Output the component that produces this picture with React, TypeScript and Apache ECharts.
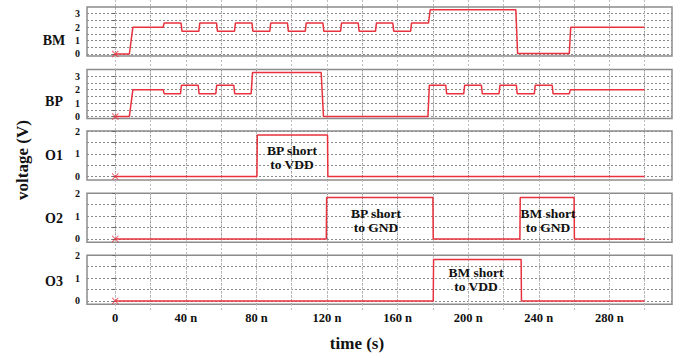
import React, { useEffect, useRef } from 'react';
import * as echarts from 'echarts';

// ---- data (time in ns, voltage in V) ----
const panelNames = ['BM', 'BP', 'O1', 'O2', 'O3'];

const BM: [number, number][] = [
  [0, 0], [8, 0], [10, 2], [27.2, 2], [27.7, 2.3], [37.3, 2.3], [37.8, 1.7], [47.4, 1.7], [47.9, 2.3],
  [57.4, 2.3], [57.9, 1.7], [67.6, 1.7], [68.1, 2.3], [77.5, 2.3], [78, 1.7], [87.6, 1.7], [88.1, 2.3],
  [97.6, 2.3], [98.1, 1.7], [107.7, 1.7], [108.2, 2.3], [117.7, 2.3], [118.2, 1.7], [127.7, 1.7],
  [128.2, 2.3], [137.7, 2.3], [138.2, 1.7], [147.5, 1.7], [148, 2.3], [157.3, 2.3], [157.8, 1.7],
  [167.4, 1.7], [167.9, 2.3], [177.5, 2.3], [178.5, 3.3], [227, 3.3], [228, 0.03], [257.3, 0.03],
  [258.1, 2], [300, 2],
];

const BP: [number, number][] = [
  [0, 0], [8, 0], [10, 2], [27.2, 2], [27.7, 1.7], [37, 1.7], [37.5, 2.33], [47, 2.33], [47.5, 1.7],
  [57, 1.7], [57.5, 2.33], [67.2, 2.33], [67.7, 1.7], [77, 1.7], [77.8, 3.28], [116.7, 3.28], [118, 0],
  [177.2, 0], [178, 2.33], [187.3, 2.33], [187.8, 1.7], [197.5, 1.7], [198, 2.33], [207.5, 2.33],
  [208, 1.7], [217.5, 1.7], [218, 2.33], [227.3, 2.33], [227.8, 1.7], [237.5, 1.7], [238, 2.33],
  [247.6, 2.33], [248.1, 1.7], [257.3, 1.7], [257.9, 2], [300, 2],
];

const O1: [number, number][] = [
  [0, 0], [80.3, 0], [80.5, 1.82], [120.3, 1.82], [120.5, 0], [300, 0],
];

const O2: [number, number][] = [
  [0, 0], [119.6, 0], [119.8, 1.82], [180, 1.82], [180.2, 0], [229.3, 0], [229.5, 1.82],
  [260, 1.82], [260.2, 0], [300, 0],
];

const O3: [number, number][] = [
  [0, 0], [180.2, 0], [180.4, 1.82], [230, 1.82], [230.2, 0], [300, 0],
];

const seriesData = [BM, BP, O1, O2, O3];

const xTickValues = [0, 20, 40, 60, 80, 100, 120, 140, 160, 180, 200, 220, 240, 260, 280, 300];
const xLabelValues = [0, 40, 80, 120, 160, 200, 240, 280];
const yTicksB = [0, 0.5, 1, 1.5, 2, 2.5, 3];
const yLabelsB = [0, 1, 2, 3];
const yTicksO = [0, 0.5, 1, 1.5, 2];
const yLabelsO = [0, 1, 2];

const annotations = [
  { text: 'BP short\nto VDD', x: 292, y: 157 },
  { text: 'BP short\nto GND', x: 376, y: 220 },
  { text: 'BM short\nto GND', x: 548, y: 220 },
  { text: 'BM short\nto VDD', x: 476, y: 279.5 },
];

// ---- layout ----
const GRID_LEFT = 87;
const GRID_WIDTH = 585;
const GRID_TOPS = [7, 69.5, 131, 193.3, 255.3];
const GRID_H = 49;
const X_MIN = -16;
const X_MAX = 315.5;
const FONT = 'Liberation Serif';
const RED = '#e8323e';
const labelY = [40, 101, 155, 218, 281];

const xSymbol = 'path://M0,1 L1,0 L5,4 L9,0 L10,1 L6,5 L10,9 L9,10 L5,6 L1,10 L0,9 L4,5 Z';

export default function App() {
  const ref = useRef<HTMLDivElement>(null);

  useEffect(() => {
    if (!ref.current) return;
    const chart = echarts.init(ref.current, undefined, { renderer: 'svg' });

    const grids: any[] = GRID_TOPS.map((top) => ({
      left: GRID_LEFT,
      width: GRID_WIDTH,
      top,
      height: GRID_H,
      show: true,
      borderColor: '#8c8c8c',
      borderWidth: 1.5,
      backgroundColor: 'transparent',
    }));
    // background grid for vertical dotted lines running through the gaps
    grids.push({ left: GRID_LEFT, width: GRID_WIDTH, top: 0, height: 312, show: false });

    const xAxes: any[] = GRID_TOPS.map((_, i) => ({
      type: 'value',
      gridIndex: i,
      min: X_MIN,
      max: X_MAX,
      axisLine: { show: false },
      axisTick: { show: false, customValues: xTickValues },
      axisLabel: {
        show: i === 4,
        customValues: xLabelValues,
        formatter: (v: number) => (v === 0 ? '0' : `${v} n`),
        fontFamily: FONT,
        fontWeight: 'bold',
        fontSize: 12.5,
        color: '#111',
        margin: 7,
      },
      splitLine: { show: true, lineStyle: { color: '#8a8a8a', type: [2, 2], width: 1 } },
    }));
    xAxes.push({
      type: 'value',
      gridIndex: 5,
      min: X_MIN,
      max: X_MAX,
      axisLine: { show: false },
      axisTick: { show: false, customValues: xTickValues },
      axisLabel: { show: false },
      splitLine: { show: true, lineStyle: { color: '#bdbdbd', type: [2, 2], width: 1 } },
    });

    const yAxes: any[] = GRID_TOPS.map((_, i) => {
      const isB = i < 2;
      return {
        type: 'value',
        gridIndex: i,
        min: -0.15,
        max: isB ? 3.5 : 2.0,
        axisLine: { show: false },
        axisTick: {
          show: true,
          length: 3,
          customValues: isB ? yTicksB : yTicksO,
          lineStyle: { color: '#666' },
        },
        axisLabel: {
          customValues: isB ? yLabelsB : yLabelsO,
          fontFamily: FONT,
          fontWeight: 'bold',
          fontSize: 10,
          color: '#111',
          margin: 7,
        },
        splitLine: { show: true, lineStyle: { color: '#8a8a8a', type: [2, 2], width: 1 } },
      };
    });
    yAxes.push({ type: 'value', gridIndex: 5, min: 0, max: 1, show: false, splitLine: { show: false } });

    const series: any[] = [];
    seriesData.forEach((d, i) => {
      series.push({
        type: 'line',
        xAxisIndex: i,
        yAxisIndex: i,
        data: d,
        showSymbol: false,
        lineStyle: { color: RED, width: 1.5 },
        z: 3,
      });
      series.push({
        type: 'scatter',
        xAxisIndex: i,
        yAxisIndex: i,
        data: [d[0]],
        symbol: xSymbol,
        symbolSize: 7,
        itemStyle: { color: RED },
        z: 4,
      });
    });

    const graphic: any[] = [];
    panelNames.forEach((name, i) => {
      graphic.push({
        type: 'text',
        x: 54,
        y: labelY[i],
        style: {
          text: name,
          font: `bold 14px "${FONT}"`,
          fill: '#111',
          textAlign: 'center',
          textVerticalAlign: 'middle',
        },
      });
    });
    annotations.forEach((a) => {
      graphic.push({
        type: 'text',
        x: a.x,
        y: a.y,
        z: 10,
        style: {
          text: a.text,
          font: `bold 13.5px "${FONT}"`,
          fill: '#111',
          textAlign: 'center',
          textVerticalAlign: 'middle',
          lineHeight: 14,
        },
      });
    });
    graphic.push({
      type: 'text',
      x: 22,
      y: 160,
      rotation: Math.PI / 2,
      style: {
        text: 'voltage (V)',
        font: `bold 17px "${FONT}"`,
        fill: '#111',
        textAlign: 'center',
        textVerticalAlign: 'middle',
      },
    });
    graphic.push({
      type: 'text',
      x: 357,
      y: 343,
      style: {
        text: 'time (s)',
        font: `bold 17px "${FONT}"`,
        fill: '#111',
        textAlign: 'center',
        textVerticalAlign: 'middle',
      },
    });

    chart.setOption({
      animation: false,
      backgroundColor: '#ffffff',
      grid: grids,
      xAxis: xAxes,
      yAxis: yAxes,
      series,
      graphic,
    });

    return () => chart.dispose();
  }, []);

  return (
    <div
      ref={ref}
      style={{ position: 'fixed', left: 0, top: 0, width: 680, height: 358, background: '#fff' }}
    />
  );
}
